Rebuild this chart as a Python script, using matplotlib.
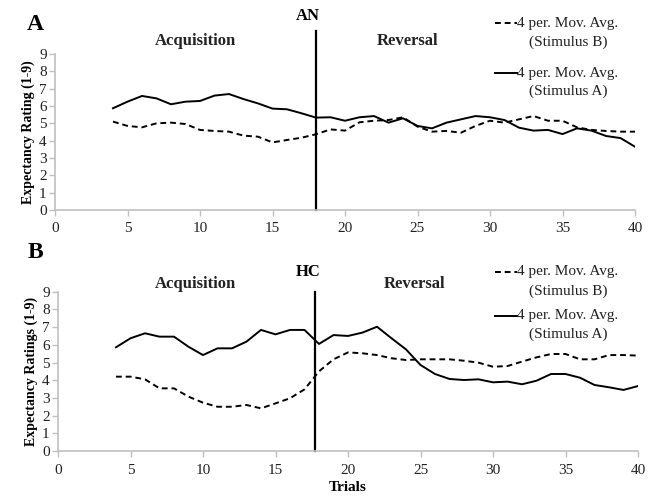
import matplotlib.pyplot as plt
from matplotlib.lines import Line2D

plt.rcParams['font.family'] = ['Liberation Serif', 'DejaVu Serif']

# Trials (4-period moving average starts at trial 4)
trials = list(range(4, 41))

# Panel A (AN)
an_stim_a = [5.87, 6.25, 6.58, 6.44, 6.10, 6.25, 6.29, 6.60, 6.69, 6.40, 6.15, 5.85, 5.81,
             5.58, 5.33, 5.35, 5.15, 5.35, 5.42, 5.04, 5.29, 4.85, 4.71, 5.04, 5.23, 5.42,
             5.35, 5.19, 4.75, 4.58, 4.62, 4.38, 4.71, 4.58, 4.27, 4.15, 3.65]
an_stim_b = [5.10, 4.85, 4.77, 5.00, 5.04, 4.96, 4.62, 4.56, 4.52, 4.29, 4.23, 3.90, 4.04,
             4.17, 4.37, 4.65, 4.58, 5.06, 5.15, 5.19, 5.35, 4.81, 4.52, 4.56, 4.46, 4.85,
             5.15, 5.04, 5.23, 5.42, 5.15, 5.15, 4.77, 4.62, 4.56, 4.52, 4.52]

# Panel B (HC)
hc_stim_a = [5.86, 6.37, 6.65, 6.46, 6.46, 5.89, 5.42, 5.80, 5.80, 6.18, 6.84, 6.59, 6.84,
             6.84, 6.05, 6.55, 6.50, 6.69, 7.02, 6.37, 5.74, 4.86, 4.35, 4.07, 4.01, 4.05,
             3.88, 3.92, 3.77, 3.97, 4.35, 4.35, 4.14, 3.73, 3.60, 3.45, 3.67]
hc_stim_b = [4.20, 4.20, 4.05, 3.54, 3.54, 3.07, 2.73, 2.50, 2.50, 2.60, 2.41, 2.69, 2.98,
             3.48, 4.50, 5.18, 5.57, 5.52, 5.42, 5.24, 5.14, 5.18, 5.18, 5.18, 5.10, 4.99,
             4.76, 4.80, 5.05, 5.29, 5.48, 5.48, 5.18, 5.18, 5.42, 5.42, 5.39]

W, H = 654, 496
fig = plt.figure(figsize=(W / 100, H / 100), dpi=100)
grey = '#c0c0c0'
txt = '#222222'


def fx(px):
    return px / W


def fy(py):
    return 1 - py / H


def make_panel(rect, sa, sb, ylabel, split, line_top):
    ax = fig.add_axes(rect)
    ax.plot(trials, sb, color='black', lw=1.4, ls=(0, (3, 2)))
    ax.plot(trials, sa, color='black', lw=1.4)
    ax.plot([split, split], [0, line_top], color='black', lw=1.6, clip_on=False)
    ax.set_xlim(0, 40)
    ax.set_ylim(0, 9)
    ax.set_xticks(range(0, 41, 5))
    ax.set_yticks(range(0, 10))
    for s in ['top', 'right']:
        ax.spines[s].set_visible(False)
    for s in ['left', 'bottom']:
        ax.spines[s].set_color(grey)
        ax.spines[s].set_linewidth(1.2)
    ax.tick_params(colors=grey, labelcolor=txt, labelsize=11, length=4, width=1)
    ax.tick_params(axis='x', pad=5)
    ax.tick_params(axis='y', pad=2)
    ax.set_ylabel(ylabel, fontsize=10, fontweight='bold', labelpad=3)
    return ax


ax1 = make_panel([fx(55), fy(210), fx(580), (210 - 54) / H], an_stim_a, an_stim_b,
                 'Expectancy Rating (1-9)', 18, 10.3)
ax2 = make_panel([fx(58), fy(451), fx(580), (451 - 291.7) / H], hc_stim_a, hc_stim_b,
                 'Expectancy Ratings (1-9)', 17.75, 9)
ax2.set_xlabel('Trials', fontsize=11, fontweight='bold', labelpad=3)


def legend(y_b, y_a):
    for y, ls in [(y_b, (0, (3, 2))), (y_a, '-')]:
        fig.add_artist(Line2D([fx(495), fx(517)], [fy(y), fy(y)], color='black',
                              lw=1.4, ls=ls, transform=fig.transFigure))
    fig.text(fx(517), fy(y_b), '4 per. Mov. Avg.', fontsize=11, va='center', color=txt)
    fig.text(fx(568), fy(y_b + 19), '(Stimulus B)', fontsize=11, va='center', ha='center', color=txt)
    fig.text(fx(517), fy(y_a), '4 per. Mov. Avg.', fontsize=11, va='center', color=txt)
    fig.text(fx(568), fy(y_a + 18), '(Stimulus A)', fontsize=11, va='center', ha='center', color=txt)


# Panel A annotations
fig.text(fx(35), fy(25), 'A', fontsize=17, fontweight='bold', ha='center', va='center')
fig.text(fx(308), fy(16), 'AN', fontsize=12, fontweight='bold', ha='center', va='center')
fig.text(fx(195), fy(41), 'Acquisition', fontsize=12, fontweight='bold', ha='center', va='center', color=txt)
fig.text(fx(408), fy(41), 'Reversal', fontsize=12, fontweight='bold', ha='center', va='center', color=txt)
legend(23, 73)

# Panel B annotations
fig.text(fx(35), fy(253), 'B', fontsize=17, fontweight='bold', ha='center', va='center')
fig.text(fx(308), fy(272), 'HC', fontsize=12, fontweight='bold', ha='center', va='center')
fig.text(fx(195), fy(284), 'Acquisition', fontsize=12, fontweight='bold', ha='center', va='center', color=txt)
fig.text(fx(415), fy(284), 'Reversal', fontsize=12, fontweight='bold', ha='center', va='center', color=txt)
legend(272, 316)

fig.savefig('out.png', dpi=100, facecolor='white')
